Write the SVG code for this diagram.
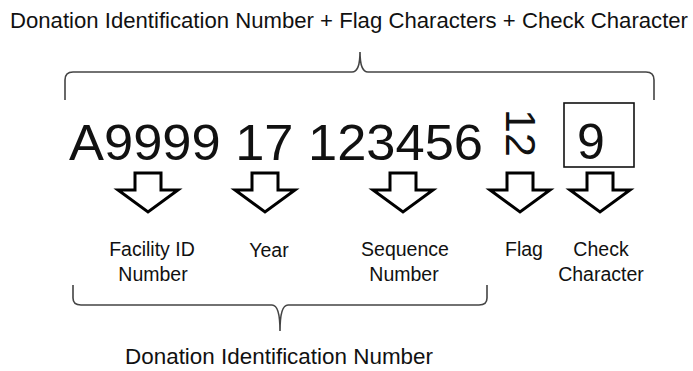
<svg xmlns="http://www.w3.org/2000/svg" width="693" height="371" viewBox="0 0 693 371">
<style>
.t{font-family:"Liberation Sans",Arial,sans-serif;fill:#111}
.big{font-size:50px}
.lbl{font-size:19.5px;text-anchor:middle}
.brace{fill:none;stroke:#444;stroke-width:1.6}
.arr{fill:#fff;stroke:#000;stroke-width:3;stroke-linejoin:miter}
</style>
<defs>
<path id="da" d="M-13,0 H13 V17 H30 L0,39 L-30,17 H-13 Z"/>
</defs>
<rect width="693" height="371" fill="#fff"/>
<g id="title"><text class="t" x="10" y="28" font-size="22" textLength="678" lengthAdjust="spacingAndGlyphs">Donation Identification Number + Flag Characters + Check Character</text></g>
<g id="connectors">
<path class="brace" d="M65,100 V80 Q65,72 73,72 H352 Q360,72 360,52 Q360,72 368,72 H646 Q654,72 654,80 V100"/>
<path class="brace" d="M73,285 V298 Q73,305 81,305 H272 Q280,305 280,331 Q280,305 288,305 H479 Q487,305 487,298 V285"/>
</g>
<g id="code">
<text class="t big" x="69" y="160" textLength="414" lengthAdjust="spacingAndGlyphs">A9999 17 123456</text>
</g>
<g id="flag"><text class="t" font-size="43" transform="translate(506,109) rotate(90)">12</text></g>
<g id="check"><rect x="564" y="103" width="70" height="64" fill="none" stroke="#111" stroke-width="1.6"/><text class="t big" x="577" y="159">9</text></g>
<g id="arrows">
<use href="#da" class="arr" x="148" y="173"/>
<use href="#da" class="arr" x="265" y="173"/>
<use href="#da" class="arr" x="403" y="173"/>
<use href="#da" class="arr" x="520" y="173"/>
<use href="#da" class="arr" x="600" y="173"/>
</g>
<g id="facility"><text class="t lbl" x="152" y="256">Facility ID</text><text class="t lbl" x="153" y="281">Number</text></g>
<g id="year"><text class="t lbl" x="269" y="257">Year</text></g>
<g id="sequence"><text class="t lbl" x="405" y="256">Sequence</text><text class="t lbl" x="404" y="281">Number</text></g>
<g id="flaglbl"><text class="t lbl" x="524" y="256">Flag</text></g>
<g id="checklbl"><text class="t lbl" x="601" y="256">Check</text><text class="t lbl" x="601" y="281">Character</text></g>
<g id="bottom"><text class="t" x="125" y="364" font-size="21.5" textLength="308" lengthAdjust="spacingAndGlyphs">Donation Identification Number</text></g>
</svg>
